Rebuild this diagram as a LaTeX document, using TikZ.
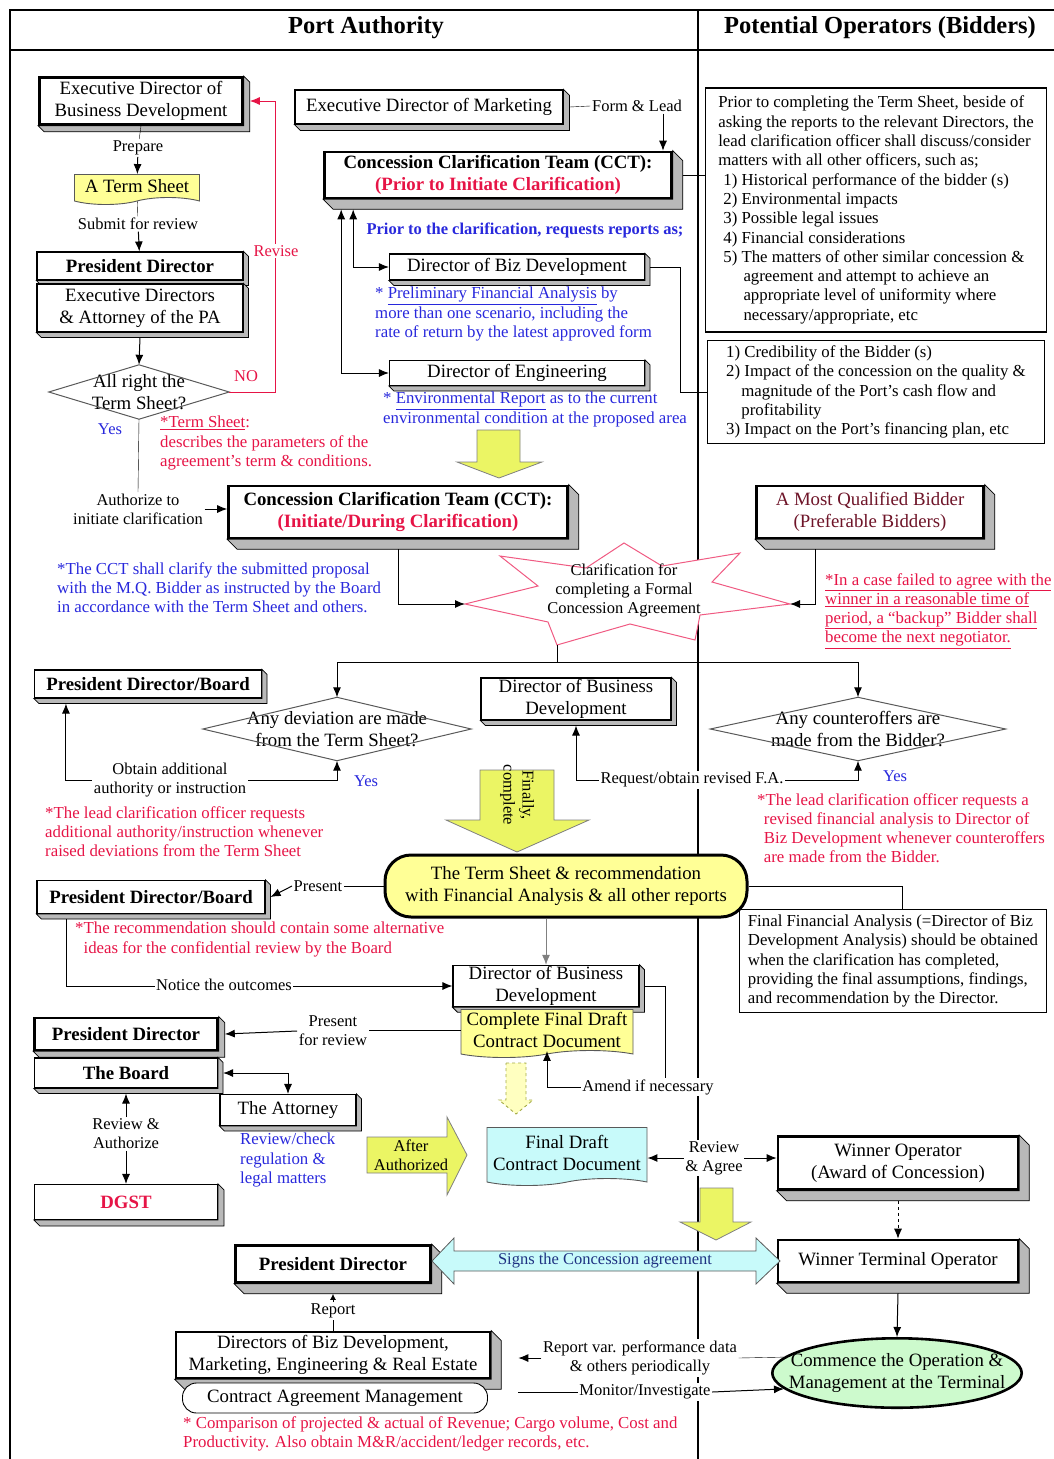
\documentclass[tikz,border=0pt]{standalone}
\usepackage{fontspec}
\setmainfont{Liberation Serif}
\usetikzlibrary{shapes.geometric, shapes.symbols, arrows.meta, positioning, calc, backgrounds}
\usepackage{xcolor}
\definecolor{nred}{RGB}{230,20,70}
\definecolor{nblue}{RGB}{40,40,220}
\definecolor{maroon}{RGB}{110,20,40}
\definecolor{ylw}{RGB}{255,255,150}
\definecolor{arrowylw}{RGB}{235,245,100}
\definecolor{cyanfill}{RGB}{200,250,250}
\definecolor{greenfill}{RGB}{205,250,205}
\definecolor{starred}{RGB}{240,90,130}
\definecolor{sgnblue}{RGB}{30,50,130}

\newcommand{\bxf}{\fontsize{18.8}{22}\selectfont}
\newcommand{\ntf}{\fontsize{16.8}{19.3}\selectfont}
\newcommand{\lbf}{\fontsize{16.5}{19}\selectfont}
\newcommand{\hdf}{\fontsize{24.5}{28}\selectfont\bfseries}

% grey extrusion under the lower right edges of a box
\newcommand{\slab}[2][5]{%
  \begin{scope}[on background layer]
    \filldraw[fill=gray!55, draw=black, line width=0.8pt]
      (#2.north east) -- ++(#1,#1) |- ($(#2.south west)+(#1,#1)$)
      -- (#2.south west) -- (#2.south east) -- cycle;
  \end{scope}}
% diamond outline round a decision node
\newcommand{\rhomb}[1]{%
  \draw[gray!70!black, line width=1pt] (#1.north) -- (#1.east) -- (#1.south) -- (#1.west) -- cycle;}

\tikzset{
  box/.style       = {draw, line width=1.1pt, fill=white, align=center, font=\bxf, inner sep=1pt},
  heavy/.style     = {box, line width=2.6pt},
  doc/.style       = {tape, tape bend top=none, tape bend height=7pt, draw=gray!70!black,
                      line width=0.9pt, align=center, font=\bxf, inner sep=1pt},
  decision/.style  = {rectangle, align=center, font=\bxf, inner sep=0pt},
  note/.style      = {align=left, font=\ntf, inner sep=0pt, anchor=north west},
  textframe/.style = {draw, line width=1.3pt, align=left, font=\ntf, inner sep=5pt},
  lbl/.style       = {font=\lbf, align=center, inner sep=1.5pt},
  wlbl/.style      = {lbl, fill=white},
  link/.style      = {-{Latex[length=10pt,width=8pt]}, line width=1pt},
  twoway/.style    = {{Latex[length=10pt,width=8pt]}-{Latex[length=10pt,width=8pt]}, line width=1pt},
  blockar/.style   = {fill=arrowylw, draw=gray, line width=0.8pt}
}

\begin{document}
\begin{tikzpicture}[x=1pt, y=-1pt]
\useasboundingbox (0,0) rectangle (1054,1459);

% frame and the two columns
\draw[line width=1.6pt] (10,1459) -- (10,10) -- (1054,10);
\draw[line width=1.6pt] (10,50) -- (1054,50);
\draw[line width=1.6pt] (698,10) -- (698,1459);
\node[font=\hdf] at (366,28) (hpa) {Port Authority};
\node[font=\hdf] at (880,28) (hpo) {Potential Operators (Bidders)};

% ---- term sheet preparation
\node[heavy, minimum width=203, minimum height=47] at (141,101) (edbd) {Executive Director of\\Business Development};
\slab[6]{edbd}
\node[lbl]                                   at (138,148) (prep) {Prepare};
\node[doc, fill=ylw, minimum width=125, minimum height=30] at (137,186) (ts) {A Term Sheet};
\node[lbl]                                   at (138,224) (subm) {Submit for review};
\node[box, font=\bxf\bfseries, minimum width=206, minimum height=28] at (140,266) (pd1) {President Director};
\slab{pd1}
\node[box, minimum width=206, minimum height=48] at (140,308) (exd) {Executive Directors\\\& Attorney of the PA};
\slab{exd}
\node[decision, minimum width=180, minimum height=54] at (139,392) (okts) {All right the\\Term Sheet?};
\rhomb{okts}

\draw (edbd.south) -- (prep);
\draw[link] (prep) -- (ts);
\draw (ts) -- (subm);
\draw[link] (subm) -- (pd1);
\draw[link] ([yshift=-5pt]exd.south) -- (okts.north);
\draw[link, nred] (okts.east) -| ([xshift=32pt]edbd.east) -- ([xshift=6pt]edbd.east);
\node[lbl, text=nred]  at (246,376) (no)   {NO};
\node[wlbl, text=nred] at (276,251) (rev)  {Revise};
\node[lbl, text=nblue] at (110,429) (yes1) {Yes};
\node[lbl]             at (138,509) (auth) {Authorize to\\initiate clarification};
\draw (okts.south) -- (auth.north);
\node[note, text=nred] at (160,416) (tsnote) {\underline{*Term Sheet}:\\describes the parameters of the\\agreement's term \& conditions.};

% ---- clarification team before clarification
\node[box, minimum width=268, minimum height=34] at (429,107) (edm) {Executive Director of Marketing};
\slab[6]{edm}
\node[lbl] at (637,106) (form) {Form \& Lead};
\node[heavy, font=\bxf\bfseries, minimum width=347, minimum height=46] at (498,175) (cct1)
     {Concession Clarification Team (CCT):\\\textcolor{nred}{(Prior to Initiate Clarification)}};
\slab[10]{cct1}
\coordinate (fl) at ($(form.south)+(26,0)$);
\draw ([xshift=6pt]edm.east) -- (form.west);
\draw[link] (fl) -- (fl |- cct1.north);

\node[lbl, text=nblue, font=\lbf\bfseries] at (525,230) (reqs) {Prior to the clarification, requests reports as;};
\node[box, minimum width=255, minimum height=26] at (517,267) (dbd1) {Director of Biz Development};
\slab{dbd1}
\node[note, text=nblue] at (375,287) (pfa) {* \underline{Preliminary Financial Analysis} by\\more than one scenario, including the\\rate of return by the latest approved form};
\node[box, minimum width=255, minimum height=25] at (517,373) (deng) {Director of Engineering};
\slab{deng}
\node[note, text=nblue] at (383,392) (envr) {* \underline{Environmental Report} as to the current\\environmental condition at the proposed area};
\draw[twoway] (dbd1.west) -| ([xshift=30pt,yshift=-10pt]cct1.south west);
\draw[twoway] (deng.west) -| ([xshift=18pt,yshift=-10pt]cct1.south west);

\node[textframe, minimum width=341, minimum height=244] at (876,210) (note1) {Prior to completing the Term Sheet, beside of\\
asking the reports to the relevant Directors, the\\
lead clarification officer shall discuss/consider\\
matters with all other officers, such as;\\
\hspace*{0.3em}1) Historical performance of the bidder (s)\\
\hspace*{0.3em}2) Environmental impacts\\
\hspace*{0.3em}3) Possible legal issues\\
\hspace*{0.3em}4) Financial considerations\\
\hspace*{0.3em}5) The matters of other similar concession \&\\
\hspace*{1.5em}agreement and attempt to achieve an\\
\hspace*{1.5em}appropriate level of uniformity where\\
\hspace*{1.5em}necessary/appropriate, etc};
\node[textframe, minimum width=337, minimum height=102] at (876,392) (note2) {1) Credibility of the Bidder (s)\\
2) Impact of the concession on the quality \&\\
\hspace*{0.9em}magnitude of the Port's cash flow and\\
\hspace*{0.9em}profitability\\
3) Impact on the Port's financing plan, etc};
\draw ([xshift=10pt]cct1.east) -- (note1.west |- cct1.east);
\draw ([xshift=5pt]dbd1.east) -| ([xshift=-27pt]note2.west) -- (note2.west);

\filldraw[blockar] (477,430) -- (520,430) -- (520,462) -- (542,462) -- (499,478) -- (457,462) -- (477,462) -- cycle;

% ---- clarification with the bidder
\node[heavy, font=\bxf\bfseries, minimum width=339, minimum height=52] at (398,512) (cct2)
     {Concession Clarification Team (CCT):\\\textcolor{nred}{(Initiate/During Clarification)}};
\slab[10]{cct2}
\draw[link] (auth.east) -- (auth.east -| cct2.west);
\node[note, text=nblue] at (57,562) (cctnote) {*The CCT shall clarify the submitted proposal\\with the M.Q. Bidder as instructed by the Board\\in accordance with the Term Sheet and others.};

\coordinate (sbL) at (465,604);
\coordinate (sbR) at (790,604);
\coordinate (sbB) at (557,645);
\filldraw[fill=white, draw=starred, line width=1pt] (624,543) -- (662,566) -- (740,553) -- (712,582) -- (sbR)
   -- (700,615) -- (695,640) -- (630,624) -- (sbB) -- (548,622) -- (sbL) -- (538,586) -- (500,556) -- (586,568) -- cycle;
\node[lbl] at (624,590) (clar) {Clarification for\\completing a Formal\\Concession Agreement};

\node[heavy, text=maroon, minimum width=227, minimum height=52] at (870,512) (mqb) {A Most Qualified Bidder\\(Preferable Bidders)};
\slab[10]{mqb}
\draw[link] ([yshift=-10pt]cct2.south) |- (sbL);
\draw[link] ([xshift=-55pt,yshift=-10pt]mqb.south) |- (sbR);
\node[note, text=nred] at (825,573) (bnote) {\underline{*In a case failed to agree with the}\\\underline{winner in a reasonable time of}\\\underline{period, a ``backup'' Bidder shall}\\\underline{become the next negotiator.}};

% ---- deviations and counteroffers
\coordinate (jn) at (557,662);
\node[decision, minimum width=268, minimum height=63] at (337,729) (dev) {Any deviation are made\\from the Term Sheet?};
\rhomb{dev}
\node[decision, minimum width=295, minimum height=63] at (858,729) (ctr) {Any counteroffers are\\made from the Bidder?};
\rhomb{ctr}
\draw (sbB) -- (jn);
\draw[link] (jn) -| (dev.north);
\draw[link] (jn) -| (ctr.north);

\node[box, font=\bxf\bfseries, minimum width=227, minimum height=28] at (148,684) (pdb1) {President Director/Board};
\slab{pdb1}
\draw[twoway] ([xshift=32pt,yshift=-5pt]pdb1.south west) |- ([yshift=-20pt]dev.south) -- (dev.south);
\node[wlbl]            at (170,780) (obt)  {Obtain additional\\authority or instruction};
\node[lbl, text=nblue] at (366,781) (yes2) {Yes};
\node[note, text=nred] at (45,806) (devnote) {*The lead clarification officer requests\\additional authority/instruction whenever\\raised deviations from the Term Sheet};

\node[box, minimum width=190, minimum height=42] at (576,699) (dbd2) {Director of Business\\Development};
\slab{dbd2}
\draw[twoway] ([yshift=-5pt]dbd2.south) |- ([yshift=-20pt]ctr.south) -- (ctr.south);
\node[wlbl]            at (692,780) (reqfa) {Request/obtain revised F.A.};
\node[lbl, text=nblue] at (895,776) (yes3)  {Yes};
\node[note, text=nred] at (757,793) (ctrnote) {*The lead clarification officer requests a\\\hspace*{0.4em}revised financial analysis to Director of\\\hspace*{0.4em}Biz Development whenever counteroffers\\\hspace*{0.4em}are made from the Bidder.};

\filldraw[blockar] (480,770) -- (554,770) -- (554,820) -- (589,820) -- (517,852) -- (446,820) -- (480,820) -- cycle;
\node[lbl, rotate=-90] at (517,795) (fin) {Finally,\\complete};

% ---- recommendation and final draft
\node[heavy, fill=ylw, rounded corners=26pt, line width=3pt, minimum width=362, minimum height=62] at (566,886) (ybox)
     {The Term Sheet \& recommendation\\with Financial Analysis \& all other reports};
\node[lbl] at (318,886) (pres1) {Present};
\node[box, font=\bxf\bfseries, minimum width=228, minimum height=33] at (151,897) (pdb2) {President Director/Board};
\slab{pdb2}
\draw (ybox.west) -- (pres1.east);
\draw[link] (pres1.west) -- ([xshift=5pt]pdb2.east);
\node[note, text=nred] at (75,922) (recnote) {*The recommendation should contain some alternative\\\hspace*{0.5em}ideas for the confidential review by the Board};

\node[textframe, minimum width=307, minimum height=98] at (893,961) (note5) {Final Financial Analysis (=Director of Biz\\
Development Analysis) should be obtained\\
when the clarification has completed,\\
providing the final assumptions, findings,\\
and recommendation by the Director.};
\draw (ybox.east) -| ([xshift=9pt]note5.north);

\node[box, minimum width=186, minimum height=38] at (546,986) (dbd3) {Director of Business\\Development};
\slab{dbd3}
\node[doc, fill=ylw, minimum width=172, minimum height=48] at (547,1030) (cfd) {Complete Final Draft\\Contract Document};
\draw[link, gray] (dbd3.north |- ybox.south) -- (dbd3.north);
\draw[link] ([xshift=30pt,yshift=-5pt]pdb2.south west) |- (dbd3.west);
\node[wlbl] at (224,985) (notice) {Notice the outcomes};
\node[wlbl] at (648,1087) (amend) {Amend if necessary};
\draw ([xshift=5pt]dbd3.east) -| ([xshift=17pt]amend.north);
\draw[link] (amend.west) -| (cfd.south);
\filldraw[fill=ylw!60, draw=arrowylw!70!black, dashed, line width=0.9pt] (506,1063) -- (526,1063) -- (526,1100)
   -- (533,1100) -- (516,1114) -- (499,1100) -- (506,1100) -- cycle;

\node[heavy, font=\bxf\bfseries, minimum width=183, minimum height=32] at (126,1034) (pd2) {President Director};
\slab[6]{pd2}
\node[lbl] at (333,1031) (pfr) {Present\\for review};
\draw (cfd.west) -- (cfd.west -| pfr.east);
\draw[link] (pfr.west) -- ([xshift=6pt]pd2.east);
\node[box, font=\bxf\bfseries, minimum width=183, minimum height=30] at (126,1073) (board) {The Board};
\slab{board}
\node[box, minimum width=136, minimum height=31] at (288,1110) (att) {The Attorney};
\slab{att}
\draw[twoway] ([xshift=5pt]board.east) -| (att.north);
\node[note, text=nblue] at (240,1133) (attnote) {Review/check\\regulation \&\\legal matters};
\node[lbl] at (126,1134) (rvau) {Review \&\\Authorize};
\node[box, font=\bxf\bfseries, text=nred, minimum width=183, minimum height=35] at (126,1202) (dgst) {DGST};
\slab[6]{dgst}
\draw[link] (rvau.north) -- ([yshift=-5pt]board.south);
\draw[link] (rvau.south) -- (dgst.north);

\filldraw[blockar] (367,1137) -- (447,1137) -- (447,1117) -- (467,1155) -- (447,1195) -- (447,1173) -- (367,1173) -- cycle;
\node[lbl] at (411,1155) (aft) {After\\Authorized};

% ---- award and contract
\node[doc, fill=cyanfill, minimum width=160, minimum height=58] at (567,1153) (fdcd) {Final Draft\\Contract Document};
\node[heavy, minimum width=240, minimum height=53] at (898,1163) (wo) {Winner Operator\\(Award of Concession)};
\slab[10]{wo}
\node[wlbl] at (714,1158) (ragr) {Review\\\& Agree};
\draw[link] (ragr.west) -- (ragr.west -| fdcd.east);
\draw[link] (ragr.east) -- (ragr.east -| wo.west);

\filldraw[blockar] (700,1188) -- (733,1188) -- (733,1222) -- (751,1222) -- (716,1240) -- (680,1222) -- (700,1222) -- cycle;
\node[heavy, minimum width=240, minimum height=42] at (898,1261) (wto) {Winner Terminal Operator};
\slab[10]{wto}
\draw[link, dashed] ([yshift=-10pt]wo.south) -- (wto.north);

\node[heavy, font=\bxf\bfseries, minimum width=195, minimum height=37] at (333,1264) (pd3) {President Director};
\slab[10]{pd3}
\filldraw[fill=cyanfill, draw=gray!70!black, line width=0.8pt] (432,1261) -- (454,1238) -- (454,1251) -- (756,1251)
   -- (756,1238) -- (780,1261) -- (756,1284) -- (756,1271) -- (454,1271) -- (454,1284) -- cycle;
\node[lbl, text=sgnblue, font=\fontsize{16.5}{18}\selectfont] at (605,1261) (sign) {Signs the Concession agreement};

% ---- operation and monitoring
\node[heavy, minimum width=314, minimum height=46] at (333,1355) (dirs) {Directors of Biz Development,\\Marketing, Engineering \& Real Estate};
\slab[10]{dirs}
\node[wlbl] at (333,1311) (rep) {Report};
\draw (dirs.north) -- (rep.south);
\draw[-{Latex[length=6pt,width=6pt]}, line width=1pt] (rep.north) -- ([yshift=-10pt]pd3.south);
\node[draw, line width=0.9pt, rounded corners=14pt, fill=white, font=\bxf, minimum width=305, minimum height=30,
      inner sep=1pt] at (335,1398) (cam) {Contract Agreement Management};
\node[note, text=nred] at (183,1416) (camnote) {* Comparison of projected \& actual of Revenue; Cargo volume, Cost and\\Productivity. Also obtain M\&R/accident/ledger records, etc.};

\node[ellipse, draw, line width=2.6pt, fill=greenfill, font=\bxf, align=center, inner xsep=-20pt, inner ysep=5pt] at (897,1373) (cmt)
     {Commence the Operation \&\\Management at the Terminal};
\draw[link] ([yshift=-10pt]wto.south) -- (cmt.north);
\coordinate (dirsR) at ($(dirs.east)+(27,0)$);
\node[wlbl] at (640,1358) (rvp) {Report var. performance data\\\& others periodically};
\node[wlbl] at (645,1392) (mon) {Monitor/Investigate};
\draw (cmt.172) -- (rvp.east);
\draw[link] (rvp.west) -- (rvp.west -| dirsR);
\draw (mon.west -| dirsR) -- (mon.west);
\draw[link] (mon.east) -- (cmt.188);
\end{tikzpicture}
\end{document}
